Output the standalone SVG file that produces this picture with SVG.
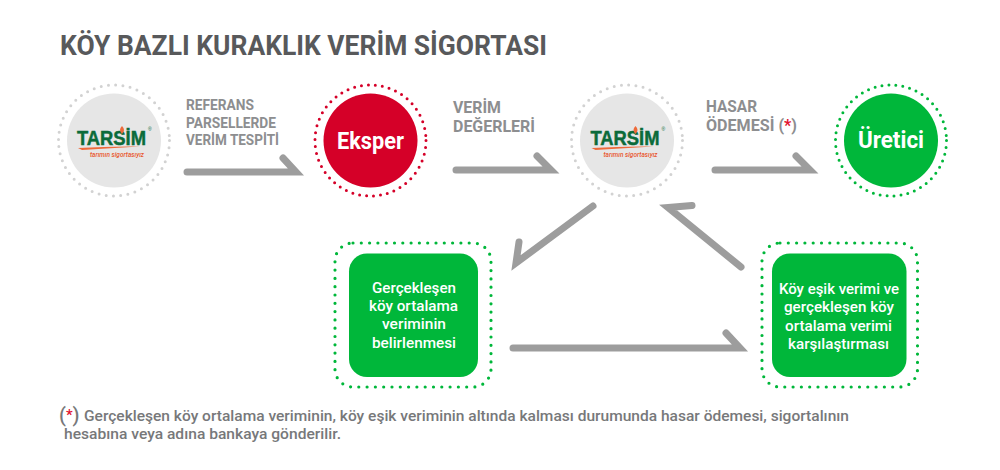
<svg xmlns="http://www.w3.org/2000/svg" width="1000" height="470" viewBox="0 0 1000 470">
<style>
text{font-family:Roboto,"Liberation Sans",sans-serif}
.t{fill:#58595b;font-size:28px;font-weight:700}
.l{fill:#8d8e90;font-weight:700}
.c{fill:#fff;font-size:15px;font-weight:500;text-anchor:middle}
.n{fill:#fff;font-size:24px;font-weight:700;text-anchor:middle}
.f{fill:#77787a;font-size:14.5px;font-weight:500}
.r{fill:#e2122f}
.a{fill:none;stroke:#9d9d9d;stroke-width:7;stroke-linecap:round;stroke-linejoin:miter;stroke-miterlimit:10}
.dg{fill:none;stroke:#00b73a;stroke-width:3.2;stroke-linecap:round;stroke-dasharray:0 8.3}
.dr{fill:none;stroke:#d50028;stroke-width:3;stroke-linecap:round;stroke-dasharray:0 7}
.dy{fill:none;stroke:#d2d2d2;stroke-width:3;stroke-linecap:round;stroke-dasharray:0 7.3}
.lg{fill:#e6e6e6}
.gr{fill:#00b73a}
.tm{fill:#0b6b3a;font-size:21px;font-weight:700;font-family:"Liberation Sans",sans-serif;stroke:#0b6b3a;stroke-width:.5}
.sl{fill:#e8552b;font-size:7px;font-style:italic;font-weight:500}
.rg{fill:#0b6b3a;font-size:5px;font-family:"Liberation Sans",sans-serif}
.sw{fill:#ee6a3a}
</style>
<text class="t" x="60" y="55" textLength="487" lengthAdjust="spacingAndGlyphs">KÖY BAZLI KURAKLIK VERİM SİGORTASI</text>
<g id="connectors">
<polyline class="a" points="187,172 296,172 283,158"/>
<polyline class="a" points="456,170 551,170 537,156"/>
<polyline class="a" points="715,170 810,170 796,156"/>
<polyline class="a" points="593,206 516,263 519,242"/>
<polyline class="a" points="741,267 668,207.5 692,205.5"/>
<polyline class="a" points="513,348 740,348 726,333"/>
</g>
<g id="label-referans">
<text class="l" x="186" y="110" font-size="14" textLength="68" lengthAdjust="spacingAndGlyphs">REFERANS</text>
<text class="l" x="186" y="128" font-size="14" textLength="90" lengthAdjust="spacingAndGlyphs">PARSELLERDE</text>
<text class="l" x="186" y="145" font-size="14" textLength="93" lengthAdjust="spacingAndGlyphs">VERİM TESPİTİ</text>
</g>
<g id="label-verim">
<text class="l" x="453" y="113" font-size="16.5" textLength="48" lengthAdjust="spacingAndGlyphs">VERİM</text>
<text class="l" x="453" y="132" font-size="16.5" textLength="82" lengthAdjust="spacingAndGlyphs">DEĞERLERİ</text>
</g>
<g id="label-hasar">
<text class="l" x="706" y="112" font-size="16.5" textLength="51" lengthAdjust="spacingAndGlyphs">HASAR</text>
<text class="l" x="706" y="131" font-size="16.5" textLength="91" lengthAdjust="spacingAndGlyphs">ÖDEMESİ (<tspan class="r">*</tspan>)</text>
</g>
<g id="tarsim-1">
<circle class="dy" cx="114" cy="140.5" r="55.5"/>
<circle class="lg" cx="114" cy="140.5" r="47"/>
<text class="tm" x="77" y="145" textLength="69" lengthAdjust="spacingAndGlyphs">TARSİM</text>
<path class="sw" d="M122 126Q126 130 122 134Q118 130 122 126Z"/>
<text class="rg" x="148" y="131">®</text>
<path class="sw" d="M78 148Q110 146 140 146.5Q110 148 82 150Z"/>
<text class="sl" x="90" y="157" textLength="54" lengthAdjust="spacingAndGlyphs">tarımın sigortasıyız</text>
</g>
<g id="eksper">
<circle class="dr" cx="370.5" cy="140.500" r="55.5"/>
<circle cx="370.5" cy="140.5" r="47" fill="#d50028"/>
<text class="n" x="370.5" y="149" textLength="67" lengthAdjust="spacingAndGlyphs">Eksper</text>
</g>
<g id="tarsim-2">
<circle class="dy" cx="627" cy="140.5" r="55.5"/>
<circle class="lg" cx="627" cy="140.5" r="47"/>
<text class="tm" x="590.5" y="145" textLength="69" lengthAdjust="spacingAndGlyphs">TARSİM</text>
<path class="sw" d="M635.5 126Q639.5 130 635.5 134Q631.5 130 635.5 126Z"/>
<text class="rg" x="661.5" y="131">®</text>
<path class="sw" d="M591.5 148Q623.5 146 653.5 146.5Q623.5 148 595.5 150Z"/>
<text class="sl" x="603.5" y="157" textLength="54" lengthAdjust="spacingAndGlyphs">tarımın sigortasıyız</text>
</g>
<g id="uretici">
<circle class="dg" cx="891" cy="140.5" r="55.5" style="stroke-dasharray:0 7;stroke-width:3"/>
<circle class="gr" cx="891" cy="140.5" r="47"/>
<text class="n" x="891" y="148" textLength="66" lengthAdjust="spacingAndGlyphs">Üretici</text>
</g>
<g id="box-gerceklesen">
<rect class="dg" x="335" y="243" width="156" height="144" rx="18"/>
<rect class="gr" x="349" y="253.5" width="129" height="123.5" rx="18"/>
<text class="c" x="414" y="293" textLength="84" lengthAdjust="spacingAndGlyphs">Gerçekleşen</text>
<text class="c" x="413.5" y="311" textLength="89" lengthAdjust="spacingAndGlyphs">köy ortalama</text>
<text class="c" x="414" y="329" textLength="64" lengthAdjust="spacingAndGlyphs">veriminin</text>
<text class="c" x="414" y="348" textLength="84" lengthAdjust="spacingAndGlyphs">belirlenmesi</text>
</g>
<g id="box-karsilastirma">
<rect class="dg" x="762" y="243" width="155.5" height="144" rx="18"/>
<rect class="gr" x="772" y="253.5" width="134.5" height="123.5" rx="18"/>
<text class="c" x="839" y="294" textLength="120" lengthAdjust="spacingAndGlyphs">Köy eşik verimi ve</text>
<text class="c" x="839" y="312" textLength="110" lengthAdjust="spacingAndGlyphs">gerçekleşen köy</text>
<text class="c" x="838.5" y="331" textLength="107" lengthAdjust="spacingAndGlyphs">ortalama verimi</text>
<text class="c" x="838.5" y="349" textLength="101" lengthAdjust="spacingAndGlyphs">karşılaştırması</text>
</g>
<g id="footnote">
<text class="f" x="59" y="422" style="font-size:20px">(<tspan class="r" style="font-size:15px" dy="-2">*</tspan><tspan dy="2">)</tspan></text>
<text class="f" x="84" y="421" textLength="765" lengthAdjust="spacingAndGlyphs">Gerçekleşen köy ortalama veriminin, köy eşik veriminin altında kalması durumunda hasar ödemesi, sigortalının</text>
<text class="f" x="64" y="439" textLength="277" lengthAdjust="spacingAndGlyphs">hesabına veya adına bankaya gönderilir.</text>
</g>
</svg>
